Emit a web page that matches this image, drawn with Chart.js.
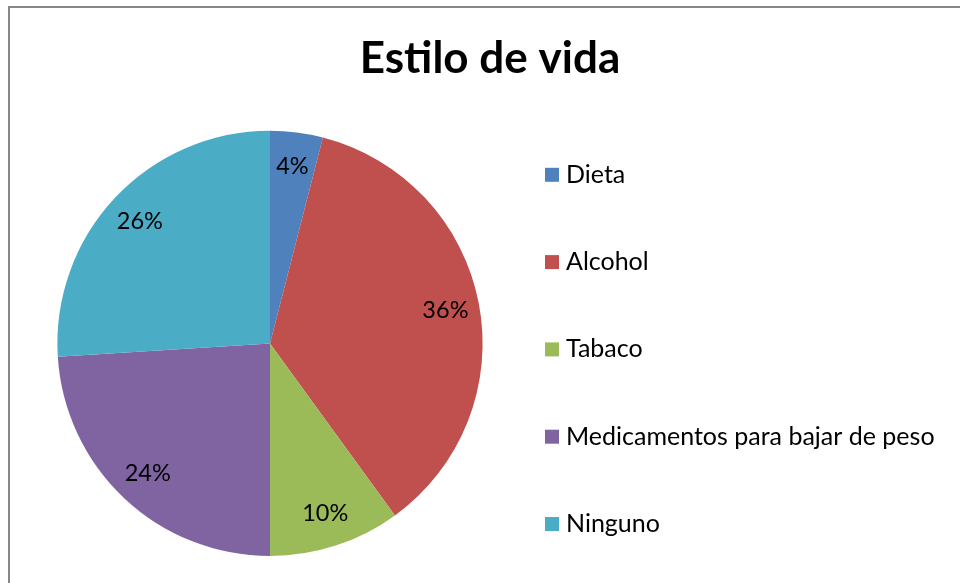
<!DOCTYPE html>
<html lang="es">
<head>
<meta charset="utf-8">
<title>Estilo de vida</title>
<script src="https://cdn.jsdelivr.net/npm/chart.js@4.4.1/dist/chart.umd.min.js"></script>
<style>
  html, body { margin: 0; padding: 0; background: #fff; overflow: hidden; }
  #wrap { position: relative; width: 960px; height: 583px; }
  #frame {
    position: absolute; left: 8px; top: 6px; width: 1000px; height: 700px;
    border-left: 2px solid #878787; border-top: 2px solid #878787;
  }
  #chart { position: absolute; left: 0; top: 0; }
</style>
</head>
<body>
<div id="wrap">
  <div id="frame"></div>
  <canvas id="chart" width="960" height="583"></canvas>
</div>
<script>
// --- Data ---
const chartTitle = 'Estilo de vida';
const categories = ['Dieta', 'Alcohol', 'Tabaco', 'Medicamentos para bajar de peso', 'Ninguno'];
const percentages = [4, 36, 10, 24, 26];
const sliceColors = ['#4F81BD', '#C0504D', '#9BBB59', '#8064A2', '#4BACC6'];

// --- Look & layout ---
const FONT = 'Lato, "Open Sans", sans-serif';
const LEGEND_WIDTH = 440;     // space reserved on the right for the legend
const LEGEND_FIRST = 44;      // first legend row, from top of legend box
const LEGEND_STEP = 87.3;     // distance between legend rows
const LABEL_RADIUS = 0.84;    // where the % labels sit, as part of the radius

// Legend drawn as a layout box on the right side (Excel style, wide spacing)
const sideLegend = {
    id: 'sideLegend',
    beforeInit(chart) {
        const box = {
            position: 'right', weight: 10, fullSize: false, options: {},
            left: 0, top: 0, right: 0, bottom: 0, width: 0, height: 0,
            isHorizontal() { return false; },
            update(maxWidth, maxHeight) {
                this.width = LEGEND_WIDTH;
                this.height = maxHeight;
            },
            getPadding() { return { left: 0, top: 0, right: 0, bottom: 0 }; },
            draw() {
                const ctx = chart.ctx;
                const colors = chart.data.datasets[0].backgroundColor;
                ctx.save();
                ctx.font = `25px ${FONT}`;
                ctx.textBaseline = 'middle';
                ctx.textAlign = 'left';
                chart.data.labels.forEach((label, i) => {
                    const y = this.top + LEGEND_FIRST + i * LEGEND_STEP;
                    ctx.fillStyle = colors[i];
                    ctx.fillRect(this.left + 25, y - 7, 14, 14);
                    ctx.fillStyle = '#000';
                    ctx.fillText(label, this.left + 46, y);
                });
                ctx.restore();
            }
        };
        Chart.layouts.addBox(chart, box);
    }
};

// Percentage labels inside each slice
const sliceLabels = {
    id: 'sliceLabels',
    afterDatasetsDraw(chart) {
        const ctx = chart.ctx;
        const values = chart.data.datasets[0].data;
        ctx.save();
        ctx.font = `23.5px ${FONT}`;
        ctx.fillStyle = '#000';
        ctx.textAlign = 'center';
        ctx.textBaseline = 'middle';
        chart.getDatasetMeta(0).data.forEach((arc, i) => {
            const p = arc.getProps(['x', 'y', 'startAngle', 'endAngle', 'outerRadius'], true);
            const mid = (p.startAngle + p.endAngle) / 2;
            const r = p.outerRadius * LABEL_RADIUS;
            ctx.fillText(values[i] + '%', p.x + Math.cos(mid) * r, p.y + Math.sin(mid) * r);
        });
        ctx.restore();
    }
};

new Chart(document.getElementById('chart'), {
    type: 'pie',
    data: {
        labels: categories,
        datasets: [{
            data: percentages,
            backgroundColor: sliceColors,
            borderWidth: 0,
            hoverOffset: 0
        }]
    },
    options: {
        responsive: false,
        animation: false,
        events: [],
        layout: { padding: { top: 10, left: 20, right: 0, bottom: 27 } },
        plugins: {
            legend: { display: false },
            tooltip: { enabled: false },
            title: {
                display: true,
                text: chartTitle,
                color: '#000',
                font: { family: FONT, size: 44, weight: 'bold' },
                padding: { top: 22, bottom: 46 }
            }
        }
    },
    plugins: [sideLegend, sliceLabels]
});
</script>
</body>
</html>
